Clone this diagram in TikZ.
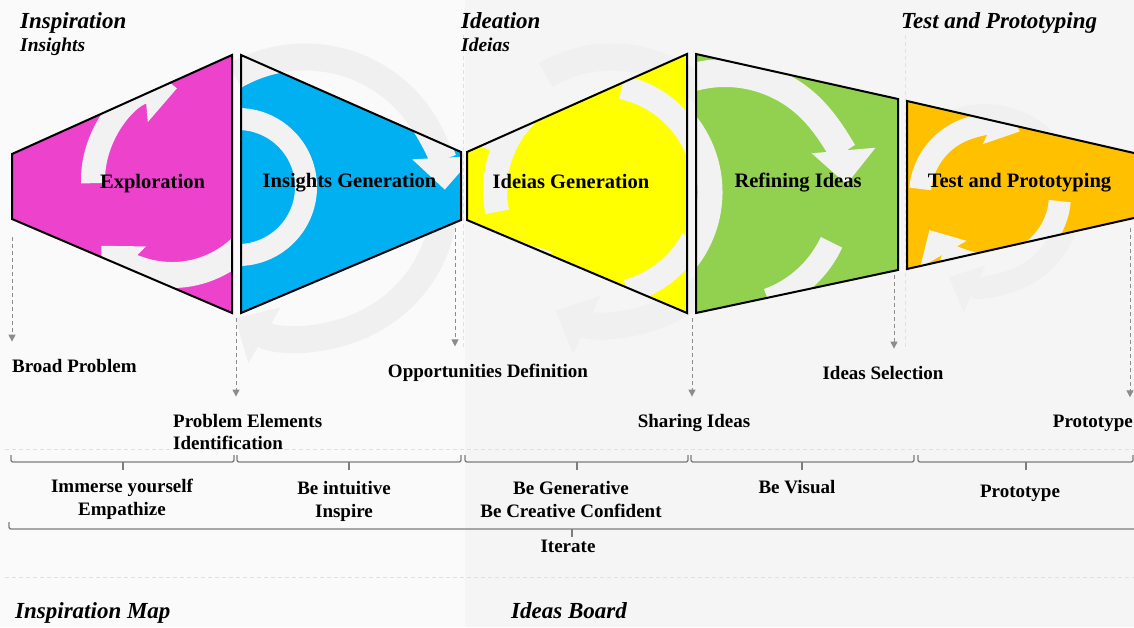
\documentclass[tikz,border=0pt]{standalone}
\usepackage{fontspec}
\setmainfont{Liberation Serif}
\usetikzlibrary{arrows.meta,positioning}

\definecolor{bgleft}{RGB}{250,250,250}
\definecolor{bgright}{RGB}{245,245,245}
\definecolor{wmark}{RGB}{240,240,240}
\definecolor{swirlc}{RGB}{242,242,242}
\definecolor{magentaF}{RGB}{236,66,204}
\definecolor{cyanF}{RGB}{0,176,240}
\definecolor{yellowF}{RGB}{255,255,0}
\definecolor{greenF}{RGB}{146,208,80}
\definecolor{orangeF}{RGB}{255,192,0}
\definecolor{arrowgray}{RGB}{140,140,140}
\definecolor{bracegray}{RGB}{125,125,125}

\tikzset{
  stage/.style={draw=black, line width=2pt, line join=miter},
  stagelabel/.style={font=\fontsize{20.5}{24}\selectfont\bfseries, inner sep=0pt, anchor=base},
  phase/.style={font=\fontsize{23}{27}\selectfont\bfseries\itshape, inner sep=0pt, anchor=base west},
  subphase/.style={font=\fontsize{19.5}{23}\selectfont\bfseries\itshape, inner sep=0pt, anchor=base west},
  outcome/.style={font=\fontsize{19}{22}\selectfont\bfseries, inner sep=0pt, anchor=base},
  mindset/.style={font=\fontsize{19}{22.5}\selectfont\bfseries, inner sep=0pt, align=center, anchor=base},
  flow/.style={draw=arrowgray, line width=1pt, dash pattern=on 4pt off 3pt, -{Triangle[length=7pt,width=7pt]}, shorten >=17pt},
  brace/.style={draw=bracegray, line width=1.3pt, rounded corners=2pt},
  guide/.style={draw=black!12, line width=0.8pt, dash pattern=on 4pt off 3pt},
  band/.style={draw=swirlc, line width=#1},
  wband/.style={draw=wmark, line width=#1},
}

\begin{document}
\begin{tikzpicture}[x=1pt, y=-1pt]
\useasboundingbox (0,0) rectangle (1134,627);
\fill[bgleft] (0,0) rectangle (1134,627);
\fill[bgright] (465,0) rectangle (1134,627);

% watermark cycles behind the stages
\draw[wband=27pt, -{Triangle[length=34pt,width=62pt]}] (305,197) ++(240:140) arc[start angle=240, end angle=480, radius=140];
\draw[wband=27pt, -{Triangle[length=34pt,width=62pt]}] (612,190) ++(240:133) arc[start angle=240, end angle=475, radius=133];
\draw[wband=22pt, -{Triangle[length=28pt,width=50pt]}] (985,200) ++(240:85) arc[start angle=240, end angle=475, radius=85];

% guides
\draw[guide] (463,35) -- (463,350);
\draw[guide] (905,35) -- (905,350);
\draw[guide] (5,449) -- (1134,449);
\draw[guide] (5,577) -- (1134,577);

% Exploration
\begin{scope}
\clip (12,154) -- (232,55) -- (232,313) -- (12,219) -- cycle;
\fill[magentaF] (0,0) rectangle (1134,627);
\draw[band=24pt, -{Triangle[length=32pt,width=60pt]}] (185,180) ++(178:92) arc[start angle=178, end angle=265, radius=92];
\draw[band=26pt, -{Triangle[length=32pt,width=60pt]}] (172,175) ++(15:100) arc[start angle=15, end angle=135, radius=100];
\end{scope}
\draw[stage] (12,154) -- (232,55) -- (232,313) -- (12,219) -- cycle;

% Insights Generation
\begin{scope}
\clip (241,55) -- (461,152) -- (461,220) -- (241,313) -- cycle;
\fill[cyanF] (0,0) rectangle (1134,627);
\draw[band=22pt] (238,187) ++(-88:68) arc[start angle=-88, end angle=88, radius=68];
\draw[band=27pt, -{Triangle[length=32pt,width=60pt]}] (305,197) ++(230:140) arc[start angle=230, end angle=357, radius=140];
\end{scope}
\draw[stage] (241,55) -- (461,152) -- (461,220) -- (241,313) -- cycle;

% Ideias Generation
\begin{scope}
\clip (467,152) -- (687,54) -- (687,313) -- (467,220) -- cycle;
\fill[yellowF] (0,0) rectangle (1134,627);
\draw[band=26pt] (600,190) ++(200:128) arc[start angle=200, end angle=250, radius=128];
\draw[band=24pt] (600,190) ++(282:105) arc[start angle=282, end angle=338, radius=105];
\draw[band=24pt] (600,190) ++(168:105) arc[start angle=168, end angle=225, radius=105];
\draw[band=22pt, -{Triangle[length=30pt,width=54pt]}] (600,190) ++(100:100) arc[start angle=100, end angle=150, radius=100];
\draw[band=24pt] (600,190) ++(28:105) arc[start angle=28, end angle=75, radius=105];
\end{scope}
\draw[stage] (467,152) -- (687,54) -- (687,313) -- (467,220) -- cycle;

% Refining Ideas
\begin{scope}
\clip (696,54) -- (898,99) -- (898,270) -- (696,313) -- cycle;
\fill[greenF] (0,0) rectangle (1134,627);
\draw[band=25pt] (600,192) ++(-75:110) arc[start angle=-75, end angle=75, radius=110];
\draw[band=28pt, -{Triangle[length=34pt,width=62pt]}] (725,195) ++(255:122) arc[start angle=255, end angle=355, radius=122];
\draw[band=24pt] (730,195) ++(25:112) arc[start angle=25, end angle=70, radius=112];
\end{scope}
\draw[stage] (696,54) -- (898,99) -- (898,270) -- (696,313) -- cycle;

% Test and Prototyping
\begin{scope}
\clip (907,101) -- (1134,153) -- (1134,218) -- (907,269) -- cycle;
\fill[orangeF] (0,0) rectangle (1134,627);
\draw[band=22pt, -{Triangle[length=28pt,width=52pt]}] (990,195) ++(185:70) arc[start angle=185, end angle=295, radius=70];
\draw[band=22pt, -{Triangle[length=28pt,width=52pt]}] (990,195) ++(5:70) arc[start angle=5, end angle=150, radius=70];
\end{scope}
\draw[stage] (1134,153) -- (907,101) -- (907,269) -- (1134,218);

\node[stagelabel] (exploration) at (152.5,188) {Exploration};
\node[stagelabel] (insightsgen) at (349.5,187) {Insights Generation};
\node[stagelabel] (ideiasgen) at (571,188) {Ideias Generation};
\node[stagelabel] (refining) at (798,187) {Refining Ideas};
\node[stagelabel] (testing) at (1019.5,187) {Test and Prototyping};

% phases
\node[phase] (inspiration) at (20,28) {Inspiration};
\node[subphase] (insights) at (20,51) {Insights};
\node[phase] (ideation) at (461,28) {Ideation};
\node[subphase] (ideias) at (461,51) {Ideias};
\node[phase] (testphase) at (901,28) {Test and Prototyping};

% outcomes
\node[outcome, anchor=base west] (broad) at (12,372) {Broad Problem};
\node[outcome, anchor=base west, align=left] (elements) at (173,449) {Problem Elements\\Identification};
\node[outcome] (opport) at (488,377) {Opportunities Definition};
\node[outcome] (sharing) at (694,427) {Sharing Ideas};
\node[outcome] (selection) at (883,379) {Ideas Selection};
\node[outcome, anchor=base east] (proto) at (1133,427) {Prototype};

\coordinate (m-drop) at (12,237);
\coordinate (c-drop) at (236,318);
\coordinate (y-drop) at (455,228);
\coordinate (g-drop) at (692,318);
\coordinate (s-drop) at (894,275);
\coordinate (o-drop) at (1130,228);
\draw[flow] (m-drop) -- (broad.north -| m-drop);
\draw[flow] (c-drop) -- (elements.north -| c-drop);
\draw[flow] (y-drop) -- (opport.north -| y-drop);
\draw[flow] (g-drop) -- (sharing.north -| g-drop);
\draw[flow] (s-drop) -- (selection.north -| s-drop);
\draw[flow] (o-drop) -- (proto.north -| o-drop);

% mindsets
\draw[brace] (11,455) |- (234,462) -- (234,455);
\draw[brace] (123,462) -- (123,470);
\draw[brace] (237,455) |- (461,462) -- (461,455);
\draw[brace] (349,462) -- (349,470);
\draw[brace] (465,455) |- (688,462) -- (688,455);
\draw[brace] (577,462) -- (577,470);
\draw[brace] (691,455) |- (914,462) -- (914,455);
\draw[brace] (802,462) -- (802,470);
\draw[brace] (918,455) |- (1133,462) -- (1133,455);
\draw[brace] (1026,462) -- (1026,470);
\draw[brace] (9,522) |- (1140,529);
\draw[brace] (572,529) -- (572,537);

\node[mindset] (immerse) at (122,515) {Immerse yourself\\Empathize};
\node[mindset] (intuitive) at (344,517) {Be intuitive\\Inspire};
\node[mindset] (generative) at (571,517) {Be Generative\\Be Creative Confident};
\node[mindset] (visual) at (797,493) {Be Visual};
\node[mindset] (prototype) at (1020,497) {Prototype};
\node[mindset] (iterate) at (568,552) {Iterate};

% tools
\node[phase] (inspmap) at (15,618) {Inspiration Map};
\node[phase] (board) at (511,618) {Ideas Board};
\end{tikzpicture}
\end{document}
